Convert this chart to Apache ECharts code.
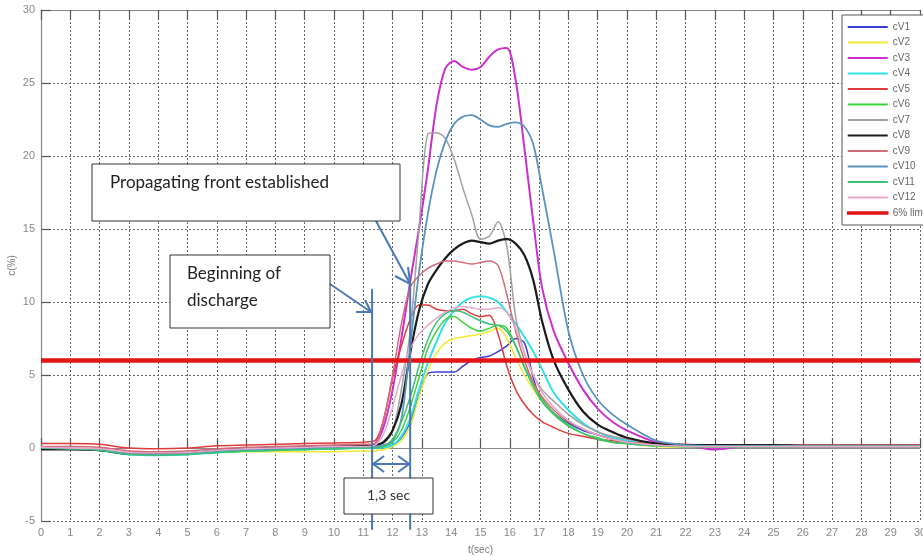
<!DOCTYPE html>
<html><head><meta charset="utf-8">
<script src="https://cdn.jsdelivr.net/npm/echarts@6/dist/echarts.min.js"></script>
<style>html,body{margin:0;padding:0;background:#fff}#c{width:923px;height:556px}</style>
</head><body><div id="c"></div>
<script>
const t=[0,1,2,3,4,5,6,7,8,9,10,11,11.4,11.7,12,12.3,12.6,12.9,13.2,13.5,13.8,14.1,14.4,14.7,15,15.3,15.6,15.9,16.2,16.5,16.8,17.1,17.5,18,18.5,19,19.5,20,21,22,23,24,25,26,27,28,29,30];
const cV1=[0,-0.05,-0.1,-0.4,-0.45,-0.4,-0.25,-0.15,-0.1,-0.05,0,0,0,0.05,0.2,0.7,1.8,3.6,5.1,5.2,5.2,5.2,5.6,6.0,6.2,6.3,6.6,7.0,7.5,7.2,4.8,3.2,2.4,1.7,1.2,0.9,0.6,0.4,0.2,0.1,0.1,0.1,0.1,0.1,0.1,0.1,0.1,0.1];
const cV2=[0,-0.05,-0.15,-0.4,-0.45,-0.45,-0.3,-0.25,-0.25,-0.25,-0.25,-0.2,-0.2,-0.1,0.1,0.5,1.5,3.5,5.3,6.5,7.2,7.5,7.6,7.7,7.8,8.0,8.2,7.5,6.2,5.0,4.0,3.2,2.3,1.5,1.0,0.6,0.4,0.3,0.1,0.05,0.05,0.05,0.05,0.05,0.05,0.05,0.05,0.05];
const cV3=[0,-0.05,-0.1,-0.35,-0.4,-0.35,-0.2,-0.1,0,0.05,0.1,0.15,0.3,1.5,4,7.5,11.4,15,19,23.5,26,26.5,26.1,25.9,26.1,26.8,27.3,27.4,25.2,20.5,15.5,11,8,5.8,4,2.7,1.8,1.2,0.4,0.2,-0.1,0.1,0.1,0.1,0.1,0.1,0.1,0.1];
const cV4=[0,-0.05,-0.15,-0.45,-0.5,-0.45,-0.3,-0.2,-0.15,-0.1,-0.05,0,0,0.05,0.2,0.8,2,4,5.8,7.3,8.6,9.4,10,10.3,10.4,10.3,10,9.3,8.5,7.6,6.6,5.4,3.8,2.6,1.7,1.1,0.7,0.5,0.2,0.1,0.1,0.1,0.1,0.1,0.1,0.1,0.1,0.1];
const cV5=[0.3,0.3,0.25,0,-0.05,0,0.15,0.2,0.25,0.3,0.35,0.4,0.5,2,4.8,7,8.8,9.8,9.8,9.5,9.4,9.4,9.5,9.2,9.0,9.1,7.8,5.6,4.0,3.0,2.3,1.8,1.4,1.0,0.8,0.6,0.5,0.4,0.3,0.25,0.2,0.2,0.2,0.2,0.2,0.2,0.2,0.2];
const cV6=[0,-0.05,-0.15,-0.4,-0.45,-0.4,-0.3,-0.2,-0.15,-0.1,-0.05,0,0,0.1,0.4,1.2,2.8,4.8,6.8,8.0,8.8,9.0,8.6,8.2,8.0,8.2,8.4,8.2,7.0,5.6,4.4,3.4,2.4,1.6,1.0,0.7,0.4,0.3,0.15,0.1,0.1,0.1,0.1,0.1,0.1,0.1,0.1,0.1];
const cV7=[0,-0.05,-0.1,-0.35,-0.4,-0.35,-0.2,-0.1,-0.05,0,0.05,0.05,0.1,0.5,1.2,4,8,15,21.5,21.6,21.2,19.8,17.8,16,14.3,14.5,15.5,13.8,9,6.5,5,4,3.2,2.3,1.6,1.1,0.8,0.6,0.3,0.15,0.1,0.1,0.1,0.05,0.05,0.05,0.05,0.05];
const cV8=[-0.1,-0.1,-0.15,-0.4,-0.4,-0.35,-0.15,-0.05,0,0.05,0.1,0.15,0.2,0.4,1.2,3,6.5,9.4,11.2,12.2,13,13.6,14,14.2,14.1,14,14.2,14.3,14,13.2,11.5,8.7,6,4,2.5,1.6,1.1,0.7,0.3,0.2,0.2,0.2,0.2,0.15,0.15,0.15,0.15,0.15];
const cV9=[0.1,0.1,0.05,-0.2,-0.25,-0.2,-0.05,0.05,0.1,0.15,0.2,0.25,0.3,2,5,8.5,11,11.8,12.3,12.6,12.8,12.8,12.7,12.6,12.7,12.8,12.5,10.5,8,6,4.5,3.5,2.6,1.8,1.3,0.9,0.6,0.4,0.2,0.1,0.1,0.1,0.1,0.1,0.1,0.1,0.1,0.1];
const cV10=[0,-0.05,-0.1,-0.4,-0.45,-0.4,-0.2,-0.1,-0.05,0,0.05,0.05,0.1,0.2,0.5,2,7,12,16,19,21,22.2,22.7,22.8,22.5,22.1,22,22.2,22.3,22,20.8,17.8,13.5,8,5,3.3,2.3,1.6,0.5,0.2,0.15,0.15,0.15,0.15,0.15,0.15,0.15,0.15];
const cV11=[0,-0.05,-0.15,-0.45,-0.5,-0.45,-0.3,-0.2,-0.15,-0.1,-0.05,0,0,0.1,0.6,1.8,3.5,5.6,7.4,8.6,9.2,9.4,9.3,9.0,8.7,8.5,8.4,8.0,7.0,5.5,4.2,3.2,2.3,1.5,1.0,0.6,0.4,0.3,0.15,0.1,0.1,0.1,0.1,0.1,0.1,0.1,0.1,0.1];
const cV12=[0.05,0,-0.05,-0.3,-0.35,-0.3,-0.15,-0.05,0,0.05,0.1,0.1,0.2,1.0,2.8,5,6.8,7.8,8.4,8.9,9.3,9.6,9.7,9.6,9.5,9.5,9.6,9.3,8.2,6.5,5,3.8,2.8,1.9,1.3,0.9,0.6,0.4,0.2,0.1,0.1,0.1,0.1,0.1,0.1,0.1,0.1,0.1];
const limT=[0,30];
const limV=[6,6];
const seriesNames=['cV1','cV2','cV3','cV4','cV5','cV6','cV7','cV8','cV9','cV10','cV11','cV12'];
const seriesValues=[cV1,cV2,cV3,cV4,cV5,cV6,cV7,cV8,cV9,cV10,cV11,cV12];
const colors=['#3b3bd6','#f0ea30','#cc2fcc','#2fe0e6','#e03a3a','#3fd23f','#a0a0a0','#1a1a1a','#d26a78','#5b93bf','#3ac27a','#e6a8cc'];
const widths=[1.5,1.5,2,2,1.5,1.5,1.5,2.2,1.5,1.8,1.5,1.5];
// annotation values
const annotT=[11.3,12.6];
const annotTop=[10.9,11.2];
const annotBottom=-5.6;
const annotArrowY=-1.1;

const chart=echarts.init(document.getElementById('c'));
const font='Liberation Sans';
const series=seriesNames.map((n,i)=>({
  name:n,type:'line',symbol:'none',smooth:0.3,
  data:t.map((x,j)=>[x,seriesValues[i][j]]),
  lineStyle:{color:colors[i],width:widths[i]},itemStyle:{color:colors[i]},z:2
}));
series.push({name:'6% lim',type:'line',symbol:'none',data:limT.map((x,j)=>[x,limV[j]]),
  lineStyle:{color:'#e41414',width:4.5},itemStyle:{color:'#e41414'},z:5});

const axisCommon={axisLine:{lineStyle:{color:'#888',width:1.2}},axisTick:{inside:true,length:10,lineStyle:{color:'#555',width:1.2}}};
chart.setOption({
  animation:false,
  grid:{left:41,top:10,right:3,bottom:35,containLabel:false,outerBoundsMode:'none'},
  xAxis:[{type:'value',min:0,max:30,interval:1,position:'bottom',
    name:'t(sec)',nameLocation:'middle',nameGap:24,nameMoveOverlap:false,nameTextStyle:{color:'#777',fontSize:10,fontFamily:font},
    axisLabel:{color:'#888',fontSize:11,fontFamily:font,margin:6},
    splitLine:{show:true,lineStyle:{type:[2,2],color:'#666',width:1}},...axisCommon},
    {type:'value',min:0,max:30,interval:1,position:'top',axisLabel:{show:false},splitLine:{show:false},...axisCommon}],
  yAxis:{type:'value',min:-5,max:30,interval:5,
    name:'c(%)',nameLocation:'middle',nameGap:24,nameMoveOverlap:false,nameTextStyle:{color:'#777',fontSize:10,fontFamily:font},
    axisLabel:{color:'#888',fontSize:11,fontFamily:font,margin:6},
    splitLine:{show:true,lineStyle:{type:[2,2],color:'#666',width:1}},...axisCommon},
  legend:{orient:'vertical',left:842,top:15,padding:[6,4,6,5],itemWidth:40,itemHeight:2,itemGap:3.5,
    icon:'rect',borderColor:'#555',borderWidth:1,backgroundColor:'#fff',
    textStyle:{fontSize:10,color:'#666',lineHeight:12,fontFamily:font},
    data:seriesNames.map(n=>({name:n})).concat([{name:'6% lim',itemStyle:{borderColor:'#e41414',borderWidth:1.5}}])},
  series:series
});

const p=(x,y)=>chart.convertToPixel({gridIndex:0},[x,y]);
const aCol='#4a78b0';
const L1b=p(annotT[0],annotBottom),L1t=p(annotT[0],annotTop[0]);
const L2b=p(annotT[1],annotBottom),L2t=p(annotT[1],annotTop[1]);
const ay=p(0,annotArrowY)[1];
const x1=L1b[0]+1,x2=L2b[0]-1;
const ls={stroke:aCol,lineWidth:2,fill:null};
const tf='Lato';
chart.setOption({graphic:[
  {type:'line',shape:{x1:L1t[0],y1:L1t[1],x2:L1b[0],y2:L1b[1]},style:ls,z:100},
  {type:'line',shape:{x1:L2t[0],y1:L2t[1],x2:L2b[0],y2:L2b[1]},style:ls,z:100},
  {type:'line',shape:{x1:x1,y1:ay,x2:x2,y2:ay},style:ls,z:100},
  {type:'polyline',shape:{points:[[x1+11,ay-8],[x1,ay],[x1+11,ay+8]]},style:ls,z:100},
  {type:'polyline',shape:{points:[[x2-11,ay-8],[x2,ay],[x2-11,ay+8]]},style:ls,z:100},
  // Beginning arrow
  {type:'line',shape:{x1:330,y1:284,x2:L1t[0]-1,y2:312},style:ls,z:100},
  {type:'polyline',shape:{points:[[365,300],[L1t[0]-1,312],[356,312]]},style:ls,z:100},
  // Propagating arrow
  {type:'line',shape:{x1:376,y1:221,x2:L2t[0],y2:284},style:ls,z:100},
  {type:'polyline',shape:{points:[[395,276],[L2t[0],284],[408,267]]},style:ls,z:100},
  // boxes
  {type:'rect',shape:{x:92,y:164,width:308,height:57},style:{fill:'#fff',stroke:'#333',lineWidth:1},z:101},
  {type:'text',left:110,top:174,style:{text:'Propagating front established',fontSize:17,fontFamily:tf,fill:'#222'},z:102},
  {type:'rect',shape:{x:170,y:255,width:160,height:73},style:{fill:'#fff',stroke:'#333',lineWidth:1},z:101},
  {type:'text',left:187,top:265,style:{text:'Beginning of',fontSize:17,fontFamily:tf,fill:'#222'},z:102},
  {type:'text',left:187,top:292,style:{text:'discharge',fontSize:17,fontFamily:tf,fill:'#222'},z:102},
  {type:'rect',shape:{x:344,y:478,width:89,height:36},style:{fill:'#fff',stroke:'#333',lineWidth:1},z:101},
  {type:'text',left:367,top:488,style:{text:'1,3 sec',fontSize:14,fontFamily:tf,fill:'#333'},z:102}
]});
</script></body></html>
